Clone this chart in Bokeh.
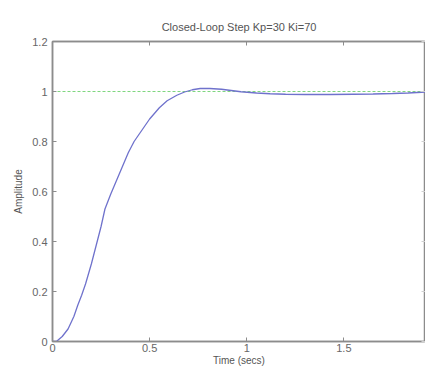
from bokeh.plotting import figure
from bokeh.models import LinearAxis, Range1d, FixedTicker
from bokeh.embed import file_html
from bokeh.resources import INLINE

title_text = "Closed-Loop Step Kp=30 Ki=70"
x_label = "Time (secs)"
y_label = "Amplitude"

t_vals = [0.0, 0.02, 0.05, 0.08, 0.11, 0.13, 0.15, 0.17, 0.20, 0.22, 0.25, 0.27,
          0.30, 0.33, 0.36, 0.39, 0.42, 0.46, 0.50, 0.55, 0.59, 0.64, 0.68, 0.72,
          0.76, 0.81, 0.87, 0.92, 0.97, 1.05, 1.12, 1.20, 1.30, 1.43, 1.55,
          1.65, 1.75, 1.83, 1.90, 1.96]
y_vals = [0.0, 0.0, 0.02, 0.05, 0.10, 0.145, 0.185, 0.23, 0.31, 0.37, 0.46, 0.53,
          0.59, 0.645, 0.70, 0.755, 0.80, 0.845, 0.89, 0.935, 0.963, 0.985, 0.998,
          1.007, 1.012, 1.012, 1.009, 1.004, 0.999, 0.994, 0.991, 0.989, 0.988,
          0.988, 0.989, 0.990, 0.992, 0.994, 0.997, 1.0]

final_value = [1.0, 1.0]
final_t = [0.0, 1.96]

x_ticks = [0, 0.5, 1, 1.5]
y_ticks = [0, 0.2, 0.4, 0.6, 0.8, 1.0, 1.2]
x_tick_labels = {0: "0", 0.5: "0.5", 1: "1", 1.5: "1.5"}
y_tick_labels = {0: "0", 0.2: "0.2", 0.4: "0.4", 0.6: "0.6", 0.8: "0.8", 1: "1", 1.2: "1.2"}

FONT = "Liberation Sans"
AX = "#8c8c8c"
TXT = "#555555"

p = figure(width=425, height=368, output_backend="svg", toolbar_location=None,
           x_range=Range1d(0, 1.92), y_range=Range1d(0, 1.2),
           min_border_left=52, min_border_right=0, min_border_top=41, min_border_bottom=27,
           x_axis_label=x_label, y_axis_label=y_label)
p.title.text = title_text
p.title.align = "center"
p.title.text_font = FONT
p.title.text_font_size = "11px"
p.title.text_font_style = "normal"
p.title.text_color = TXT
p.title.standoff = 18
p.grid.visible = False
p.outline_line_color = AX
p.outline_line_width = 1.5
p.background_fill_color = "white"
p.border_fill_color = "white"

p.xaxis.ticker = FixedTicker(ticks=x_ticks)
p.yaxis.ticker = FixedTicker(ticks=y_ticks)
p.xaxis.major_label_overrides = x_tick_labels
p.yaxis.major_label_overrides = y_tick_labels

for ax in (p.xaxis[0], p.yaxis[0]):
    ax.axis_line_color = AX
    ax.axis_line_width = 1.5
    ax.major_tick_line_color = AX
    ax.major_tick_in = 4
    ax.major_tick_out = 0
    ax.minor_tick_line_color = None
    ax.major_label_text_font = FONT
    ax.major_label_text_font_size = "11px"
    ax.major_label_text_color = "#666666"
    ax.axis_label_text_font = FONT
    ax.axis_label_text_font_size = "10px"
    ax.axis_label_text_font_style = "normal"
    ax.axis_label_text_color = TXT
p.xaxis.major_label_standoff = 2
p.xaxis.axis_label_standoff = 0
p.yaxis.major_label_standoff = 5
p.yaxis.axis_label_standoff = 5

top = LinearAxis(ticker=FixedTicker(ticks=x_ticks),
                 major_label_overrides={0: "", 0.5: "", 1: "", 1.5: ""},
                 major_label_standoff=0, major_tick_in=4, major_tick_out=0,
                 axis_line_color=AX, axis_line_width=1.5, major_tick_line_color=AX,
                 minor_tick_line_color=None)
right = LinearAxis(ticker=FixedTicker(ticks=y_ticks),
                   major_label_overrides={0: "", 0.2: "", 0.4: "", 0.6: "", 0.8: "", 1: "", 1.2: ""},
                   major_label_standoff=0, major_tick_in=4, major_tick_out=0,
                   axis_line_color=AX, axis_line_width=1.0, major_tick_line_color="#d0d0d0",
                   minor_tick_line_color=None)
p.add_layout(top, "above")
p.add_layout(right, "right")

p.line(final_t, final_value, line_color="#7fd67f", line_width=1.2, line_dash="3 2")
p.line(t_vals, y_vals, line_color="#6f72cc", line_width=1.3)

open("out.html", "w").write(file_html(p, INLINE))
